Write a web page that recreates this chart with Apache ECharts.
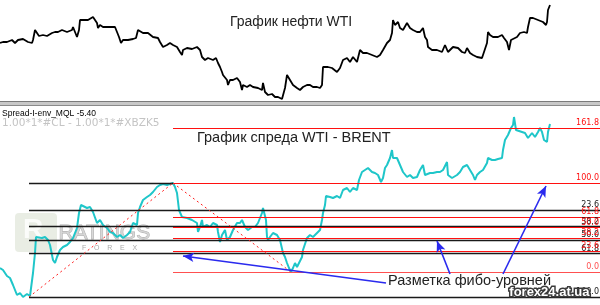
<!DOCTYPE html>
<html><head><meta charset="utf-8">
<script src="https://cdn.jsdelivr.net/npm/echarts@6/dist/echarts.min.js"></script>
<style>html,body{margin:0;padding:0;background:#fff}#c{width:600px;height:305px}</style>
</head><body><div id="c"></div>
<script>
// ---- DATA (bar index, price) ----
const wtiBars = [0,3,7,12,15,18,23,28,32,33,35,37,39,43,47,52,55,58,62,67,72,73,75,77,79,80,83,88,93,95,97,98,100,103,107,112,115,117,119,121,123,128,133,136,138,140,143,148,153,158,160,163,167,170,173,177,180,182,183,187,192,197,200,202,205,208,213,216,218,220,222,223,227,228,230,233,237,240,242,243,247,250,253,258,262,263,265,268,272,275,278,282,283,285,287,290,293,297,300,303,307,310,313,317,320,322,323,325,328,332,337,340,343,347,350,353,357,360,363,367,372,377,380,383,387,390,392,393,395,398,400,403,407,410,413,417,420,423,425,427,428,432,437,442,445,448,453,458,462,465,467,470,473,477,482,483,487,488,490,493,498,502,504,507,509,511,513,517,520,524,527,528,530,533,538,543,546,547,548,550];
const wtiPrices = [48.84,48.96,48.96,49.20,48.84,49.20,49.32,48.96,48.84,49.20,50.40,50.64,49.68,49.80,49.68,50.04,50.16,50.16,50.40,50.16,50.40,50.76,50.64,49.56,50.40,51.60,51.60,51.60,51.96,51.60,51.24,50.64,51.00,50.76,50.76,50.76,50.76,50.16,49.56,48.84,49.20,49.20,49.32,49.44,50.40,50.16,50.04,50.04,49.56,49.44,48.96,48.36,48.60,48.84,48.60,48.36,47.76,47.40,48.00,48.24,48.12,48.36,48.00,47.16,46.80,47.04,46.80,47.04,46.44,45.96,45.36,45.00,44.40,43.80,44.40,44.40,44.64,44.16,43.20,43.80,43.56,43.80,43.56,43.44,43.20,44.04,42.96,42.60,42.72,42.36,42.36,42.12,42.24,43.44,45.00,44.40,43.80,43.44,43.20,43.56,43.80,43.80,43.56,43.56,43.44,43.80,45.96,46.20,45.96,45.84,45.36,45.84,46.80,47.04,46.56,47.16,46.56,48.00,47.64,47.64,47.40,47.16,47.40,48.00,48.84,49.20,50.04,51.60,51.00,51.36,50.64,50.40,51.24,50.64,50.40,50.16,50.16,50.64,49.56,49.20,48.36,48.00,48.00,47.76,48.60,47.76,48.36,48.24,47.76,47.64,48.24,47.64,47.40,47.16,47.04,47.40,48.84,50.16,49.80,49.56,49.56,49.80,49.44,48.96,48.00,49.20,49.20,49.56,50.04,50.16,50.04,50.76,51.84,51.84,51.60,51.36,51.00,51.36,52.80,53.40];

const spreadBars = [0,3,7,10,13,15,17,20,23,27,30,33,35,36,38,42,45,48,50,53,55,57,60,63,67,70,73,77,79,81,83,87,90,93,97,100,103,107,110,113,117,120,123,127,130,133,137,138,140,143,147,150,153,157,160,163,167,170,173,175,177,179,182,187,192,197,198,200,202,203,207,210,213,217,218,220,222,223,225,227,228,230,233,237,240,242,245,248,252,255,258,262,263,265,266,267,268,270,273,277,280,283,285,287,289,291,293,295,297,298,300,302,303,307,310,313,317,320,322,323,325,326,328,330,333,337,340,343,347,350,353,357,359,362,365,368,372,375,378,381,383,385,387,390,392,393,397,400,403,407,410,413,417,420,423,425,427,430,433,437,440,443,447,448,452,453,457,460,463,467,470,473,475,477,480,483,487,488,492,495,498,502,503,505,508,511,513,514,516,518,522,525,528,532,535,538,540,542,544,547,548,550];
const spreadValues = [-11.16,-11.24,-11.48,-11.56,-11.84,-12.04,-12.24,-12.16,-12.32,-12.20,-12.28,-11.36,-10.56,-9.92,-9.84,-9.96,-9.92,-10.04,-10.24,-10.84,-10.96,-10.72,-10.44,-10.32,-10.24,-10.12,-9.96,-9.56,-8.96,-8.64,-8.68,-8.76,-8.72,-8.92,-9.36,-9.24,-9.44,-9.56,-9.72,-9.76,-9.92,-9.84,-9.96,-9.84,-9.72,-9.36,-9.44,-8.96,-8.72,-8.44,-8.32,-8.24,-8.12,-7.92,-7.84,-7.80,-7.84,-7.80,-7.76,-7.92,-8.16,-8.84,-9.12,-9.16,-9.24,-9.36,-9.72,-9.52,-9.24,-9.52,-9.44,-9.52,-9.36,-9.44,-9.72,-10.12,-9.84,-9.92,-9.64,-10.04,-10.12,-9.92,-9.64,-9.36,-9.36,-9.24,-9.52,-9.64,-9.52,-9.52,-9.36,-8.96,-8.76,-8.68,-9.24,-9.92,-10.04,-9.92,-9.76,-9.84,-10.04,-10.56,-10.72,-10.96,-11.16,-11.32,-11.16,-10.96,-11.12,-11.16,-10.88,-10.72,-10.44,-9.96,-9.84,-9.92,-9.76,-9.64,-9.24,-8.96,-8.64,-8.28,-8.28,-8.32,-8.36,-8.28,-8.36,-8.04,-7.96,-8.12,-7.96,-8.04,-7.64,-7.32,-7.24,-7.16,-7.32,-7.36,-7.44,-7.72,-7.56,-7.16,-7.04,-6.76,-6.44,-6.76,-6.76,-7.04,-7.32,-7.52,-7.44,-7.56,-7.52,-7.24,-7.04,-7.44,-7.52,-7.36,-7.36,-7.32,-7.32,-7.24,-6.92,-7.44,-7.56,-7.64,-7.44,-7.32,-7.12,-7.04,-7.24,-7.44,-7.64,-7.44,-7.32,-7.24,-6.96,-6.76,-6.84,-6.84,-6.80,-6.76,-6.44,-6.04,-5.84,-5.56,-5.44,-5.12,-5.64,-5.56,-5.72,-5.76,-5.96,-5.76,-5.92,-5.72,-5.56,-5.72,-6.04,-6.12,-5.72,-5.40];

// Fibonacci swing points (bar, spread value)
const swingLowA = [29, -12.32];
const swingHigh = [173, -7.76];
const swingLowB = [291, -11.32];
const blackLevels = [0, 23.6, 38.2, 50, 61.8, 100];
const redLevels = [0, 23.6, 38.2, 50, 61.8, 100, 161.8];

// Annotation arrows [fromBar, fromValue, toBar, toValue]
const arrows = [
  [386, -11.76, 183, -10.68],
  [450, -11.40, 437, -10.08],
  [503, -11.40, 546, -7.88]
];

// ---- CHART ----
const chart = echarts.init(document.getElementById('c'), null, {renderer: 'canvas'});
const zip = (a, b) => a.map((x, i) => [x, b[i]]);
const X_END = 600;

function fiboLine(level, value, startBar, endBar, color, lineWidth, showLabel) {
  return [
    {coord: [startBar, value], lineStyle: {color: color, width: lineWidth, type: 'solid'},
     label: {show: showLabel, position: 'insideEndTop', formatter: level.toFixed(1), color: color,
             fontSize: 8, fontFamily: 'DejaVu Sans', distance: [1, 1]}},
    {coord: [endBar, value]}
  ];
}
// the 0% line of the first (black) grid is hidden under the red 100% line to the right of the swing high
const blackData = blackLevels.map(L => {
  const v = swingHigh[1] - L / 100 * (swingHigh[1] - swingLowA[1]);
  return L === 0 ? fiboLine(L, v, swingLowA[0], swingHigh[0], '#1a1a1a', 1.3, false)
                 : fiboLine(L, v, swingLowA[0], X_END, '#1a1a1a', 1.3, true);
});
const redData = redLevels.map(L => fiboLine(L, swingLowB[1] + L / 100 * (swingHigh[1] - swingLowB[1]), swingHigh[0], X_END, L === 0 ? '#ff5050' : '#ff1010', 1.2, true));

const dashStyle = {color: '#ff2020', width: 1, type: [2, 3]};
const trendData = [
  [{coord: swingLowA, lineStyle: dashStyle}, {coord: swingHigh}],
  [{coord: swingHigh, lineStyle: dashStyle}, {coord: swingLowB}]
];
const arrowData = arrows.map(a => [
  {coord: [a[0], a[1]], symbol: 'none', lineStyle: {color: '#2a2aee', width: 1.6, type: 'solid'}},
  {coord: [a[2], a[3]], symbol: 'arrow', symbolSize: [7, 11]}
]);

chart.setOption({
  animation: false,
  backgroundColor: '#fff',
  grid: [
    {left: 0, right: 0, top: 0, height: 100},
    {left: 0, right: 0, top: 106, height: 199}
  ],
  xAxis: [
    {type: 'value', gridIndex: 0, min: 0, max: X_END, show: false},
    {type: 'value', gridIndex: 1, min: 0, max: X_END, show: false}
  ],
  yAxis: [
    {type: 'value', gridIndex: 0, min: 42, max: 54, show: false},
    {type: 'value', gridIndex: 1, min: -12.64, max: -4.68, show: false}
  ],
  series: [
    {type: 'line', name: 'WTI', xAxisIndex: 0, yAxisIndex: 0, data: zip(wtiBars, wtiPrices),
     showSymbol: false, lineStyle: {color: '#000', width: 1.8}, silent: true},
    {type: 'line', name: 'Spread', xAxisIndex: 1, yAxisIndex: 1, data: zip(spreadBars, spreadValues),
     showSymbol: false, lineStyle: {color: '#1fc6c9', width: 2}, silent: true, z: 2},
    {type: 'line', name: 'fiboA', xAxisIndex: 1, yAxisIndex: 1, data: [], silent: true, z: 3,
     markLine: {silent: true, symbol: 'none', animation: false, data: blackData}},
    {type: 'line', name: 'fiboB', xAxisIndex: 1, yAxisIndex: 1, data: [], silent: true, z: 4,
     markLine: {silent: true, symbol: 'none', animation: false, data: redData}},
    {type: 'line', name: 'trend', xAxisIndex: 1, yAxisIndex: 1, data: [], silent: true, z: 5,
     markLine: {silent: true, symbol: 'none', animation: false, label: {show: false}, data: trendData}},
    {type: 'line', name: 'arrows', xAxisIndex: 1, yAxisIndex: 1, data: [], silent: true, z: 6,
     markLine: {silent: true, symbol: ['none', 'arrow'], animation: false, label: {show: false},
                itemStyle: {color: '#2a2aee'}, data: arrowData}}
  ],
  graphic: [
    // window separator
    {type: 'rect', shape: {x: 0, y: 101, width: 600, height: 5}, style: {fill: '#c8c8c8'}, z: 10},
    {type: 'line', shape: {x1: 0, y1: 101.5, x2: 600, y2: 101.5}, style: {stroke: '#7a7a7a', lineWidth: 1}, z: 11},
    {type: 'line', shape: {x1: 0, y1: 105.5, x2: 600, y2: 105.5}, style: {stroke: '#8a8a8a', lineWidth: 1}, z: 11},
    // titles
    {type: 'text', left: 230, top: 15, style: {text: 'График нефти WTI', font: '14px "Liberation Sans", Arial', fill: '#222'}, z: 20},
    {type: 'text', left: 197, top: 130, style: {text: 'График спреда WTI - BRENT', font: '14.5px "Liberation Sans", Arial', fill: '#222'}, z: 20},
    {type: 'text', left: 388, top: 273, style: {text: 'Разметка фибо-уровней', font: '14.5px "Liberation Sans", Arial', fill: '#222'}, z: 20},
    {type: 'text', left: 2, top: 109, style: {text: 'Spread-I-env_MQL -5.40', font: '8.5px "Liberation Sans", Arial', fill: '#000'}, z: 20},
    {type: 'text', left: 2, top: 118, style: {text: '1.00*1*#CL - 1.00*1*#XBZK5', font: '10.5px "DejaVu Sans"', fill: '#c4c4c4'}, z: 20},
    // watermark logo
    {type: 'rect', shape: {x: 15, y: 213, width: 42, height: 39, r: 4}, style: {fill: '#cfd8c4', opacity: 0.45}, z: 1},
    {type: 'text', left: 23, top: 216, style: {text: 'R', font: 'bold 28px "Liberation Sans"', fill: '#ffffff', opacity: 0.8}, z: 1},
    {type: 'text', left: 58, top: 222, style: {text: 'RATINGS', font: '21px "Liberation Sans"', fill: '#d0d0d0', stroke: '#999999', lineWidth: 0.8, opacity: 0.8}, z: 1},
    {type: 'text', left: 82, top: 245, style: {text: 'F    O    R    E    X', font: '7px "Liberation Sans"', fill: '#aaaaaa'}, z: 1},
    // site watermark
    {type: 'text', right: 9, top: 284, style: {text: 'forex24.at.ua', font: 'bold 13px "Liberation Sans"', fill: '#ffffff', stroke: '#3a3a3a', lineWidth: 3}, z: 30}
  ]
});
</script></body></html>
